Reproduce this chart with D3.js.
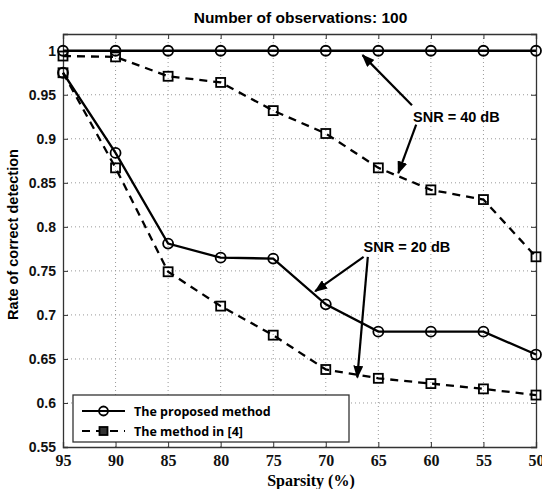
<!DOCTYPE html>
<html>
<head>
<meta charset="utf-8">
<script src="https://cdn.jsdelivr.net/npm/d3@7"></script>
<style>
  body { margin: 0; background: #fff; }
  .grid line { stroke: #999; stroke-dasharray: 1,3; }
</style>
</head>
<body>
<svg width="542" height="489"></svg>
<script>
// data
var sparsity = [95, 90, 85, 80, 75, 70, 65, 60, 55, 50];
var proposed40 = [1, 1, 1, 1, 1, 1, 1, 1, 1, 1];
var ref40 = [0.994, 0.993, 0.971, 0.964, 0.932, 0.906, 0.867, 0.842, 0.831, 0.766];
var proposed20 = [0.975, 0.884, 0.781, 0.765, 0.764, 0.712, 0.681, 0.681, 0.681, 0.655];
var ref20 = [0.975, 0.867, 0.749, 0.710, 0.677, 0.638, 0.628, 0.622, 0.616, 0.609];
var yTicks = [0.55, 0.6, 0.65, 0.7, 0.75, 0.8, 0.85, 0.9, 0.95, 1];

var svg = d3.select("svg");
var margin = {top: 34, right: 6, bottom: 42, left: 63};
var width = +svg.attr("width") - margin.left - margin.right;
var height = +svg.attr("height") - margin.top - margin.bottom;
var g = svg.append("g")
  .attr("transform", "translate(" + margin.left + "," + margin.top + ")");

var x = d3.scaleLinear().domain([95, 50]).range([0, width]);
var y = d3.scaleLinear().domain([0.55, 1.019]).range([height, 0]);

// grid
g.append("g").attr("class", "grid")
  .selectAll("line").data(sparsity.slice(1, -1))
  .enter().append("line")
    .attr("x1", function(d) { return x(d); })
    .attr("x2", function(d) { return x(d); })
    .attr("y1", 0).attr("y2", height);
g.append("g").attr("class", "grid")
  .selectAll("line").data(yTicks.slice(1))
  .enter().append("line")
    .attr("y1", function(d) { return y(d); })
    .attr("y2", function(d) { return y(d); })
    .attr("x1", 0).attr("x2", width);

// axes (matlab style, ticks inward on all sides)
var xb = g.append("g")
  .attr("transform", "translate(0," + height + ")")
  .call(d3.axisBottom(x).tickValues(sparsity).tickSize(-5).tickPadding(8).tickFormat(d3.format("d")));
xb.selectAll("text")
  .attr("font-family", "Liberation Serif, Times New Roman, serif")
  .attr("font-weight", "bold").attr("font-size", 16).attr("fill", "#111");

var yl = g.append("g")
  .call(d3.axisLeft(y).tickValues(yTicks).tickSize(-5).tickPadding(7).tickFormat(function(d) { return d === 1 ? "1" : d3.format("")(d); }));
yl.selectAll("text")
  .attr("font-family", "Liberation Sans, Arial, sans-serif")
  .attr("font-weight", "bold").attr("font-size", 14).attr("fill", "#111");

g.append("g").call(d3.axisTop(x).tickValues(sparsity).tickSize(-5).tickFormat(""));
g.append("g").attr("transform", "translate(" + width + ",0)")
  .call(d3.axisRight(y).tickValues(yTicks).tickSize(-5).tickFormat(""));
g.selectAll(".domain").attr("stroke", "#333").attr("stroke-width", 1.3);
g.selectAll(".tick line").attr("stroke", "#333");

// series
var line = d3.line()
  .x(function(d) { return x(d[0]); })
  .y(function(d) { return y(d[1]); });

var series = [
  {values: proposed40, dash: null, marker: "circle"},
  {values: ref40, dash: "8,6", marker: "square"},
  {values: proposed20, dash: null, marker: "circle"},
  {values: ref20, dash: "8,6", marker: "square"}
];

series.forEach(function(s) {
  var pts = sparsity.map(function(v, i) { return [v, s.values[i]]; });
  g.append("path")
    .datum(pts)
    .attr("fill", "none")
    .attr("stroke", "#000")
    .attr("stroke-width", 2.3)
    .attr("stroke-dasharray", s.dash)
    .attr("d", line);
  if (s.marker === "circle") {
    g.selectAll(null).data(pts).enter().append("circle")
      .attr("cx", function(d) { return x(d[0]); })
      .attr("cy", function(d) { return y(d[1]); })
      .attr("r", 5)
      .attr("fill", "none").attr("stroke", "#000").attr("stroke-width", 1.8);
  } else {
    g.selectAll(null).data(pts).enter().append("rect")
      .attr("x", function(d) { return x(d[0]) - 4.5; })
      .attr("y", function(d) { return y(d[1]) - 4.5; })
      .attr("width", 9).attr("height", 9)
      .attr("fill", "none").attr("stroke", "#000").attr("stroke-width", 1.8);
  }
});

// annotations
svg.append("defs").append("marker")
  .attr("id", "arrow")
  .attr("viewBox", "0 0 10 10")
  .attr("refX", 9).attr("refY", 5)
  .attr("markerWidth", 13).attr("markerHeight", 10)
  .attr("markerUnits", "userSpaceOnUse")
  .attr("orient", "auto")
  .attr("preserveAspectRatio", "none")
  .append("path").attr("d", "M0,0 L10,5 L0,10 Z").attr("fill", "#000");

function arrow(x1, y1, x2, y2) {
  g.append("line")
    .attr("x1", x(x1)).attr("y1", y(y1))
    .attr("x2", x(x2)).attr("y2", y(y2))
    .attr("stroke", "#000").attr("stroke-width", 2.2)
    .attr("marker-end", "url(#arrow)");
}
// SNR = 40 dB
arrow(61.8, 0.938, 66.5, 0.995);
arrow(61.4, 0.916, 63.1, 0.861);
// SNR = 20 dB
arrow(66.4, 0.766, 71.0, 0.727);
arrow(66.0, 0.766, 67.0, 0.629);

g.append("text")
  .attr("x", x(61.7)).attr("y", y(0.919))
  .attr("font-family", "Liberation Sans, Arial, sans-serif")
  .attr("font-weight", "bold").attr("font-size", 14.5)
  .text("SNR = 40 dB");
g.append("text")
  .attr("x", x(66.4)).attr("y", y(0.771))
  .attr("font-family", "Liberation Sans, Arial, sans-serif")
  .attr("font-weight", "bold").attr("font-size", 14.5)
  .text("SNR = 20 dB");

// legend
var legend = svg.append("g").attr("transform", "translate(73,395)");
legend.append("rect")
  .attr("width", 276).attr("height", 47)
  .attr("fill", "#fff").attr("stroke", "#333").attr("stroke-width", 1.3);
var legendItems = [
  {label: "The proposed method", dash: null, marker: "circle"},
  {label: "The method in [4]", dash: "8,6", marker: "square"}
];
var li = legend.selectAll("g").data(legendItems).enter().append("g")
  .attr("transform", function(d, i) { return "translate(0," + (16 + i * 20) + ")"; });
li.append("line")
  .attr("x1", 9).attr("x2", 52)
  .attr("stroke", "#000").attr("stroke-width", 2.2)
  .attr("stroke-dasharray", function(d) { return d.dash; });
li.filter(function(d) { return d.marker === "circle"; }).append("circle")
  .attr("cx", 30.5).attr("r", 4.5)
  .attr("fill", "none").attr("stroke", "#000").attr("stroke-width", 1.8);
li.filter(function(d) { return d.marker === "square"; }).append("rect")
  .attr("x", 26.5).attr("y", -4).attr("width", 8).attr("height", 8)
  .attr("fill", "#333").attr("stroke", "#000").attr("stroke-width", 1.8);
li.append("text")
  .attr("x", 61).attr("dy", "0.38em")
  .attr("font-family", "Open Sans, sans-serif")
  .attr("font-weight", "bold").attr("font-size", 12.5)
  .text(function(d) { return d.label; });

// titles
svg.append("text")
  .attr("x", 300.5).attr("y", 23)
  .attr("text-anchor", "middle")
  .attr("font-family", "Liberation Sans, Arial, sans-serif")
  .attr("font-weight", "bold").attr("font-size", 15.5)
  .text("Number of observations: 100");
svg.append("text")
  .attr("x", 311).attr("y", 486)
  .attr("text-anchor", "middle")
  .attr("font-family", "Liberation Serif, Times New Roman, serif")
  .attr("font-weight", "bold").attr("font-size", 16)
  .text("Sparsity (%)");
svg.append("text")
  .attr("transform", "translate(18," + (margin.top + height / 2 - 6) + ") rotate(-90)")
  .attr("text-anchor", "middle")
  .attr("font-family", "Liberation Sans, Arial, sans-serif")
  .attr("font-weight", "bold").attr("font-size", 14.5)
  .text("Rate of correct detection");
</script>
</body>
</html>
